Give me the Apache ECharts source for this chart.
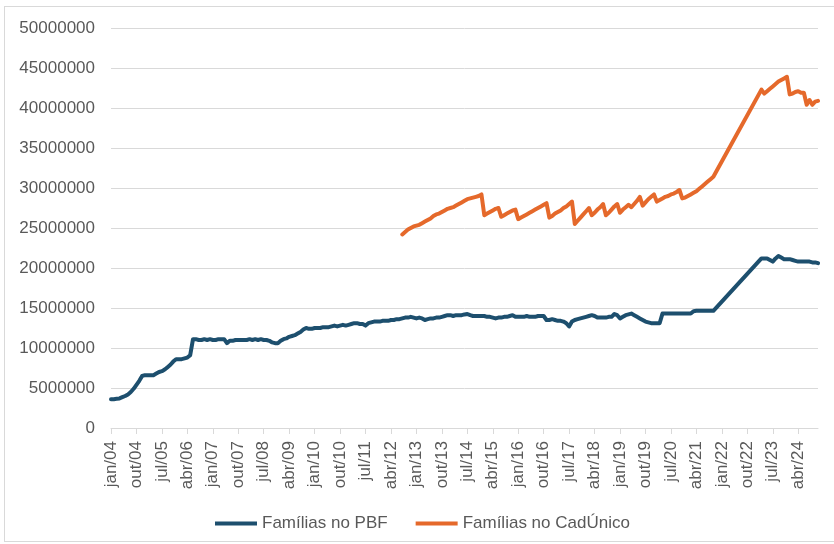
<!DOCTYPE html>
<html>
<head>
<meta charset="utf-8">
<script src="https://cdn.jsdelivr.net/npm/echarts@6/dist/echarts.min.js"></script>
<style>
html,body{margin:0;padding:0;background:#fff;}
#frame{position:absolute;left:4px;top:6px;width:840px;height:536px;border:1px solid #d9d9d9;box-sizing:border-box;}
#chart{position:absolute;left:0;top:0;width:834px;height:544px;}
</style>
</head>
<body>
<div id="frame"></div>
<div id="chart"></div>
<script>
// Month labels (pt-BR), Jan 2004 .. Nov 2024
const monthNames = ['jan','fev','mar','abr','mai','jun','jul','ago','set','out','nov','dez'];
const firstYear = 2004;
const nMonths = 251;
const categories = [];
for (let i = 0; i < nMonths; i++) {
  const y = firstYear + Math.floor(i / 12);
  categories.push(monthNames[i % 12] + '/' + String(y).slice(2));
}

// Famílias no PBF (millions), monthly
const pbf = [
  3.6, 3.6, 3.65, 3.7, 3.85, 4.0, 4.2, 4.5, 4.9, 5.4, 5.9, 6.5,          // 2004
  6.6, 6.6, 6.6, 6.6, 6.8, 7.0, 7.1, 7.3, 7.6, 7.9, 8.3, 8.6,            // 2005
  8.6, 8.6, 8.7, 8.8, 9.1, 11.1, 11.1, 11.0, 11.0, 11.1, 11.0, 11.1,     // 2006
  11.0, 11.0, 11.1, 11.1, 11.1, 10.6, 10.9, 10.9, 11.0, 11.0, 11.0, 11.0,// 2007
  11.0, 11.1, 11.0, 11.1, 11.0, 11.1, 11.0, 11.0, 10.9, 10.7, 10.6, 10.6,// 2008
  10.9, 11.1, 11.2, 11.4, 11.5, 11.6, 11.8, 12.0, 12.3, 12.5, 12.4, 12.4,// 2009
  12.5, 12.5, 12.5, 12.6, 12.6, 12.6, 12.7, 12.8, 12.7, 12.8, 12.9, 12.8,// 2010
  12.9, 13.0, 13.1, 13.1, 13.0, 13.0, 12.8, 13.1, 13.2, 13.3, 13.3, 13.3,// 2011
  13.4, 13.4, 13.4, 13.5, 13.5, 13.6, 13.6, 13.7, 13.8, 13.8, 13.9, 13.8,// 2012
  13.7, 13.8, 13.7, 13.5, 13.6, 13.7, 13.7, 13.8, 13.8, 13.9, 14.0, 14.1,// 2013
  14.1, 14.0, 14.1, 14.1, 14.1, 14.2, 14.25, 14.1, 14.0, 14.0, 14.0, 14.0,// 2014
  14.0, 13.9, 13.9, 13.8, 13.7, 13.8, 13.8, 13.9, 13.9, 14.0, 14.1, 13.9,// 2015
  13.9, 13.9, 13.9, 14.0, 13.9, 13.9, 13.9, 14.0, 14.0, 14.0, 13.5, 13.5,// 2016
  13.6, 13.5, 13.4, 13.4, 13.3, 13.1, 12.7, 13.3, 13.5, 13.6, 13.7, 13.8,// 2017
  13.9, 14.0, 14.1, 14.0, 13.8, 13.8, 13.8, 13.8, 13.9, 13.9, 14.25, 14.1,// 2018
  13.7, 13.9, 14.1, 14.2, 14.3, 14.1, 13.9, 13.7, 13.5, 13.3, 13.2, 13.1,// 2019
  13.1, 13.1, 13.1, 14.3, 14.3, 14.3, 14.3, 14.3, 14.3, 14.3, 14.3, 14.3,// 2020
  14.3, 14.3, 14.6, 14.65, 14.65, 14.65, 14.65, 14.65, 14.65, 14.65, null, null, // 2021
  null, null, null, null, null, null, null, null, null, null, null, null,// 2022
  null, null, 21.2, 21.2, 21.2, 21.0, 20.8, 21.2, 21.5, 21.3, 21.1, 21.1,// 2023
  21.1, 21.0, 20.9, 20.8, 20.8, 20.8, 20.8, 20.8, 20.7, 20.7, 20.6        // 2024
];

// Famílias no CadÚnico (millions), monthly, from Aug 2012
const cadStartIndex = 103;
const cad = [
  24.2, 24.5, 24.8, 25.0, 25.2,                                            // 2012 (ago-dez)
  25.3, 25.4, 25.6, 25.8, 26.0, 26.2, 26.5, 26.7, 26.8, 27.0, 27.2, 27.4,  // 2013
  27.5, 27.6, 27.8, 28.0, 28.2, 28.4, 28.6, 28.7, 28.8, 28.9, 29.0, 29.2,  // 2014
  26.6, 26.8, 27.0, 27.2, 27.4, 27.5, 26.4, 26.6, 26.8, 27.0, 27.2, 27.3,  // 2015
  26.1, 26.3, 26.5, 26.7, 26.9, 27.1, 27.3, 27.5, 27.7, 27.9, 28.1, 26.3,  // 2016
  26.5, 26.8, 27.0, 27.2, 27.5, 27.7, 28.0, 28.3, 25.5, 25.9, 26.3, 26.7,  // 2017
  27.1, 27.5, 26.6, 26.9, 27.3, 27.6, 28.0, 26.6, 26.9, 27.3, 27.7, 28.0,  // 2018
  26.9, 27.3, 27.6, 27.9, 27.6, 28.0, 28.4, 28.9, 27.8, 28.2, 28.6, 28.9,  // 2019
  29.2, 28.3, 28.5, 28.7, 28.9, 29.0, 29.2, 29.3, 29.5, 29.75, 28.7, 28.8, // 2020
  29.0, 29.2, 29.4, 29.6, 29.9, 30.2, 30.5, 30.8, 31.1, 31.4, null, null,  // 2021
  null, null, null, null, null, null, null, null, null, null, null, null,  // 2022
  null, null, 42.3, 41.8, 42.1, 42.4, 42.7, 43.0, 43.3, 43.5, 43.7, 43.9,  // 2023
  41.7, 41.8, 42.0, 42.1, 41.9, 41.9, 40.4, 41.0, 40.4, 40.8, 40.9         // 2024
];

const seriesNames = ['Famílias no PBF', 'Famílias no CadÚnico'];
const seriesColors = ['#1D4F6E', '#E5692B'];

const toUnits = v => (v == null ? null : Math.round(v * 1e6));
const pbfData = pbf.map(toUnits);
const cadData = new Array(cadStartIndex).fill(null).concat(cad.map(toUnits));

const font = 'Liberation Sans, Arial, sans-serif';
const chart = echarts.init(document.getElementById('chart'), null, {renderer: 'canvas'});
chart.setOption({
  animation: false,
  color: seriesColors,
  grid: {left: 111, right: 16, top: 28, bottom: 116, containLabel: false},
  legend: {
    left: 210, top: 510,
    itemWidth: 42, itemHeight: 4, itemGap: 28,
    icon: 'rect',
    textStyle: {fontFamily: font, fontSize: 17, color: '#595959'},
    data: seriesNames
  },
  xAxis: {
    type: 'category',
    data: categories,
    boundaryGap: false,
    axisLine: {lineStyle: {color: '#d9d9d9', width: 1}},
    axisTick: {show: true, interval: 8, length: 6, lineStyle: {color: '#d9d9d9'}},
    axisLabel: {interval: 8, rotate: 90, margin: 13, fontFamily: font, fontSize: 17, color: '#595959'},
    splitLine: {show: false}
  },
  yAxis: {
    type: 'value',
    min: 0, max: 50000000, interval: 5000000,
    axisLine: {show: false},
    axisTick: {show: false},
    axisLabel: {margin: 16, fontFamily: font, fontSize: 17, color: '#595959', formatter: v => String(v)},
    splitLine: {lineStyle: {color: '#d9d9d9', width: 1}}
  },
  series: [
    {name: seriesNames[0], type: 'line', data: pbfData, showSymbol: false, symbol: 'none', connectNulls: true,
     lineStyle: {width: 4, color: seriesColors[0], join: 'round', cap: 'round'}},
    {name: seriesNames[1], type: 'line', data: cadData, showSymbol: false, symbol: 'none', connectNulls: true,
     lineStyle: {width: 4, color: seriesColors[1], join: 'round', cap: 'round'}}
  ]
});
</script>
</body>
</html>
